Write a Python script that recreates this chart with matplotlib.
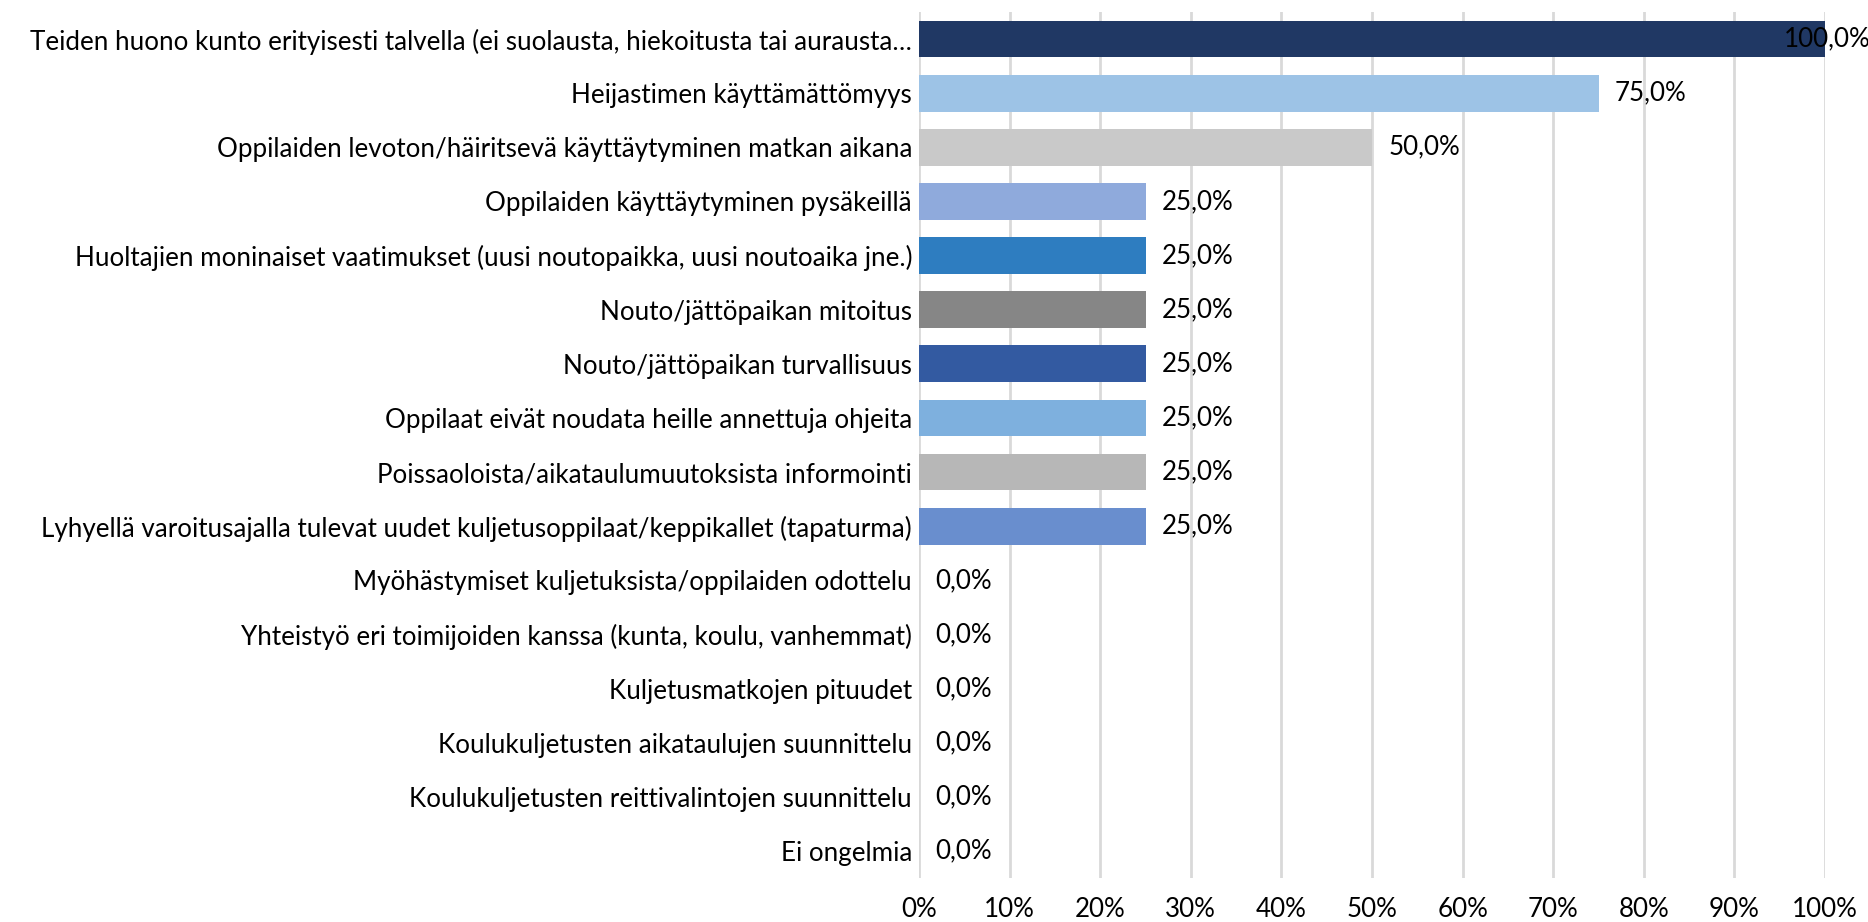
import matplotlib.pyplot as plt
from matplotlib.ticker import FuncFormatter

# Ongelmat (ylhäältä alas) ja osuudet prosentteina
ongelmat = [
    "Teiden huono kunto erityisesti talvella (ei suolausta, hiekoitusta tai aurausta…",
    "Heijastimen käyttämättömyys",
    "Oppilaiden levoton/häiritsevä käyttäytyminen matkan aikana",
    "Oppilaiden käyttäytyminen pysäkeillä",
    "Huoltajien moninaiset vaatimukset (uusi noutopaikka, uusi noutoaika jne.)",
    "Nouto/jättöpaikan mitoitus",
    "Nouto/jättöpaikan turvallisuus",
    "Oppilaat eivät noudata heille annettuja ohjeita",
    "Poissaoloista/aikataulumuutoksista informointi",
    "Lyhyellä varoitusajalla tulevat uudet kuljetusoppilaat/keppikallet (tapaturma)",
    "Myöhästymiset kuljetuksista/oppilaiden odottelu",
    "Yhteistyö eri toimijoiden kanssa (kunta, koulu, vanhemmat)",
    "Kuljetusmatkojen pituudet",
    "Koulukuljetusten aikataulujen suunnittelu",
    "Koulukuljetusten reittivalintojen suunnittelu",
    "Ei ongelmia",
]
osuudet = [100, 75, 50, 25, 25, 25, 25, 25, 25, 25, 0, 0, 0, 0, 0, 0]
varit = ["#203864", "#9DC3E6", "#C9C9C9", "#8FAADC", "#2E7DC0", "#868686",
         "#335AA1", "#7EB0DE", "#B7B7B7", "#698ECE",
         "#4472C4", "#4472C4", "#4472C4", "#4472C4", "#4472C4", "#4472C4"]

plt.rcParams['font.family'] = ['Lato', 'DejaVu Sans']
koko = 18.7

fig = plt.figure(figsize=(18.68, 9.22), dpi=100)
ax = fig.add_axes([0.492, 0.0477, 0.485, 0.9393])

y = list(range(len(ongelmat)))
ax.barh(y, osuudet, height=0.68, color=varit, zorder=3)
ax.set_ylim(len(ongelmat) - 0.5, -0.5)
ax.set_xlim(0, 100)
ax.set_xticks(range(0, 101, 10))
ax.xaxis.set_major_formatter(FuncFormatter(lambda v, p: f"{v:.0f}%"))
ax.set_yticks(y)
ax.set_yticklabels(ongelmat)
ax.tick_params(axis='both', length=0, labelsize=koko, colors='#000000')
ax.tick_params(axis='y', pad=5)
ax.tick_params(axis='x', pad=13.5)
ax.grid(axis='x', color='#D9D9D9', linewidth=2, zorder=0)
for s in ax.spines.values():
    s.set_visible(False)

# Arvojen tekstit palkkien perään
for i, v in enumerate(osuudet):
    ax.text(min(v + 1.8, 95.4), i, f"{v:.1f}%".replace('.', ','),
            va='center', ha='left', fontsize=koko, zorder=4)

fig.savefig("out.png", dpi=100)
